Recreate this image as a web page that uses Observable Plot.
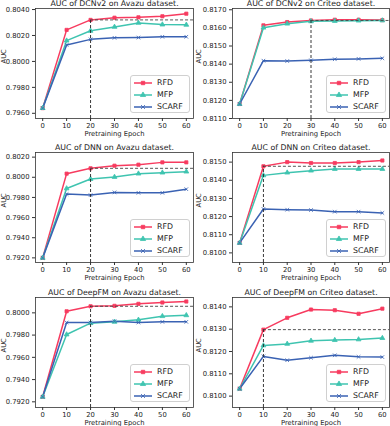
<!DOCTYPE html>
<html><head><meta charset="utf-8">
<script src="https://cdn.jsdelivr.net/npm/d3@7"></script>
<script src="https://cdn.jsdelivr.net/npm/@observablehq/plot@0.6"></script>
<style>
body{margin:0;background:#fff;}
#root{position:relative;width:390px;height:426px;overflow:hidden;font-family:"DejaVu Sans",sans-serif;}
.panel{position:absolute;}
.legend{position:absolute;box-sizing:border-box;border:1px solid #d0d0d0;border-radius:3px;background:rgba(255,255,255,0.85);}
.legend .row{position:absolute;left:0;height:12px;width:100%;}
.legend svg{position:absolute;left:2px;top:0;}
.legend span{position:absolute;left:26px;top:0;line-height:12px;font-size:7.8px;color:#222;}
</style></head><body><div id="root"></div>
<script>
// ---- data ----
const epochs = [0, 10, 20, 30, 40, 50, 60];
const methods = ["RFD", "MFP", "SCARF"];
const colors = ["#f73b5f", "#3fc4b0", "#3a62b3"];
const symbols = ["square", "triangle", "times"];
const titles = [
  "AUC of DCNv2 on Avazu dataset.", "AUC of DCNv2 on Criteo dataset.",
  "AUC of DNN on Avazu dataset.", "AUC of DNN on Criteo dataset.",
  "AUC of DeepFM on Avazu dataset.", "AUC of DeepFM on Criteo dataset."
];
const refEpochs = [20, 30, 20, 10, 20, 10];
const yTicks = [
  [0.7960, 0.7980, 0.8000, 0.8020, 0.8040],
  [0.8110, 0.8120, 0.8130, 0.8140, 0.8150, 0.8160, 0.8170],
  [0.7920, 0.7940, 0.7960, 0.7980, 0.8000, 0.8020],
  [0.8100, 0.8110, 0.8120, 0.8130, 0.8140, 0.8150],
  [0.7920, 0.7940, 0.7960, 0.7980, 0.8000],
  [0.8100, 0.8110, 0.8120, 0.8130, 0.8140]
];
const yDomains = [
  [0.7956, 0.80408], [0.8110, 0.81707],
  [0.79154, 0.80246], [0.80947, 0.81553],
  [0.79149, 0.80138], [0.80949, 0.81442]
];
const xDomain = [-3, 63];

const dcnAvazuRFD   = [0.7964, 0.80243, 0.80320, 0.80337, 0.80340, 0.80348, 0.80368];
const dcnAvazuMFP   = [0.7964, 0.80160, 0.80236, 0.80266, 0.80297, 0.80284, 0.80282];
const dcnAvazuSCARF = [0.7964, 0.80127, 0.80170, 0.80182, 0.80184, 0.80190, 0.80190];
const dcnCriteoRFD   = [0.8118, 0.81614, 0.81632, 0.81641, 0.81645, 0.81645, 0.81643];
const dcnCriteoMFP   = [0.8118, 0.81601, 0.81623, 0.81636, 0.81638, 0.81640, 0.81641];
const dcnCriteoSCARF = [0.8118, 0.81419, 0.81417, 0.81421, 0.81427, 0.81429, 0.81432];
const dnnAvazuRFD   = [0.7920, 0.80036, 0.80089, 0.80115, 0.80125, 0.80148, 0.80148];
const dnnAvazuMFP   = [0.7920, 0.79889, 0.79983, 0.80003, 0.80036, 0.80046, 0.80056];
const dnnAvazuSCARF = [0.7920, 0.79833, 0.79823, 0.79850, 0.79846, 0.79846, 0.79882];
const dnnCriteoRFD   = [0.81055, 0.81477, 0.81500, 0.81495, 0.81495, 0.81500, 0.81509];
const dnnCriteoMFP   = [0.81055, 0.81427, 0.81442, 0.81453, 0.81462, 0.81462, 0.81462];
const dnnCriteoSCARF = [0.81055, 0.81242, 0.81238, 0.81236, 0.81227, 0.81227, 0.81220];
const dfmAvazuRFD   = [0.79245, 0.80014, 0.80059, 0.80063, 0.80081, 0.80093, 0.80102];
const dfmAvazuMFP   = [0.79245, 0.79805, 0.79907, 0.79919, 0.79937, 0.79970, 0.79978];
const dfmAvazuSCARF = [0.79245, 0.79913, 0.79913, 0.79925, 0.79913, 0.79919, 0.79919];
const dfmCriteoRFD   = [0.81033, 0.81298, 0.81351, 0.81388, 0.81385, 0.81369, 0.81392];
const dfmCriteoMFP   = [0.81033, 0.81227, 0.81234, 0.81248, 0.81251, 0.81254, 0.81260];
const dfmCriteoSCARF = [0.81033, 0.81178, 0.81161, 0.81172, 0.81183, 0.81176, 0.81175];

const panelSeries = [
  [dcnAvazuRFD, dcnAvazuMFP, dcnAvazuSCARF],
  [dcnCriteoRFD, dcnCriteoMFP, dcnCriteoSCARF],
  [dnnAvazuRFD, dnnAvazuMFP, dnnAvazuSCARF],
  [dnnCriteoRFD, dnnCriteoMFP, dnnCriteoSCARF],
  [dfmAvazuRFD, dfmAvazuMFP, dfmAvazuSCARF],
  [dfmCriteoRFD, dfmCriteoMFP, dfmCriteoSCARF]
];

// ---- layout ----
const root = document.getElementById("root");
const frameTops = [8, 152, 297];
const frameH = 110;
const mTop = 20, mBottom = 22;
const colLeft = [0, 195];
const mLeft = [35, 37], mRight = [2, 1];
const W = 195;
const font = "DejaVu Sans, sans-serif";

panelSeries.forEach((series, i) => {
  const row = Math.floor(i / 2), col = i % 2;
  const rows = [];
  series.forEach((vals, k) => vals.forEach((v, j) => rows.push({epoch: epochs[j], auc: v, method: methods[k]})));
  const refX = refEpochs[i];
  const refY = series[0][epochs.indexOf(refX)];
  const yd = yDomains[i];
  const plot = Plot.plot({
    width: W, height: mTop + frameH + mBottom,
    marginTop: mTop, marginBottom: mBottom, marginLeft: mLeft[col], marginRight: mRight[col],
    style: {fontFamily: font, fontSize: "6.8px", color: "#222", background: "transparent", overflow: "visible"},
    x: {domain: xDomain},
    y: {domain: yd},
    color: {domain: methods, range: colors},
    symbol: {domain: methods, range: symbols},
    marks: [
      Plot.axisX({ticks: epochs, tickSize: 3, tickPadding: 1.5, label: null, stroke: "#333"}),
      Plot.axisY({ticks: yTicks[i], tickFormat: d3.format(".4f"), tickSize: 3, tickPadding: 3, label: null, stroke: "#333"}),
      Plot.line(rows, {x: "epoch", y: "auc", z: "method", stroke: "method", strokeWidth: 1.5}),
      Plot.dot(rows, {x: "epoch", y: "auc", symbol: "method", fill: "method", stroke: "method", strokeWidth: 0.8, r: 1.8}),
      Plot.ruleX([refX], {y1: yd[0], y2: refY, stroke: "#222", strokeWidth: 0.9, strokeDasharray: "3,2"}),
      Plot.ruleY([refY], {x1: refX, x2: xDomain[1], stroke: "#444", strokeWidth: 0.9, strokeDasharray: "3,2"}),
      Plot.frame({stroke: "#333", strokeWidth: 0.8}),
      Plot.text([titles[i]], {frameAnchor: "top", dy: -2.5, lineAnchor: "bottom", fontSize: 7.8, fill: "#222"}),
      Plot.text(["Pretraining Epoch"], {frameAnchor: "bottom", dy: 15, lineAnchor: "middle", fontSize: 6.8, fill: "#222"}),
      Plot.text(["AUC"], {frameAnchor: "left", dx: -(mLeft[col] - 3.5), rotate: -90, lineAnchor: "middle", fontSize: 6.8, fill: "#222"})
    ]
  });
  const wrap = document.createElement("div");
  wrap.className = "panel";
  wrap.style.left = colLeft[col] + "px";
  wrap.style.top = (frameTops[row] - mTop) + "px";
  wrap.appendChild(plot);
  root.appendChild(wrap);

  // legend (inside frame, lower right)
  const lg = document.createElement("div");
  lg.className = "legend";
  const lw = 60, lh = 38;
  const frameRight = colLeft[col] + W - mRight[col];
  const frameBottom = frameTops[row] + frameH;
  lg.style.width = lw + "px"; lg.style.height = lh + "px";
  lg.style.left = (frameRight - 3 - lw) + "px";
  lg.style.top = (frameBottom - 5 - lh) + "px";
  methods.forEach((m, k) => {
    const r = document.createElement("div");
    r.className = "row";
    r.style.top = (1 + k * 12) + "px";
    const s = d3.create("svg").attr("width", 20).attr("height", 12);
    s.append("line").attr("x1", 1).attr("x2", 19).attr("y1", 6).attr("y2", 6)
      .attr("stroke", colors[k]).attr("stroke-width", 1.5);
    s.append("path").attr("transform", "translate(10,6)")
      .attr("d", d3.symbol(k === 0 ? d3.symbolSquare : k === 1 ? d3.symbolTriangle : d3.symbolTimes, 12)())
      .attr("fill", k === 2 ? "none" : colors[k]).attr("stroke", colors[k]).attr("stroke-width", 0.8);
    r.appendChild(s.node());
    const t = document.createElement("span");
    t.textContent = m;
    r.appendChild(t);
    lg.appendChild(r);
  });
  root.appendChild(lg);
});
</script></body></html>
